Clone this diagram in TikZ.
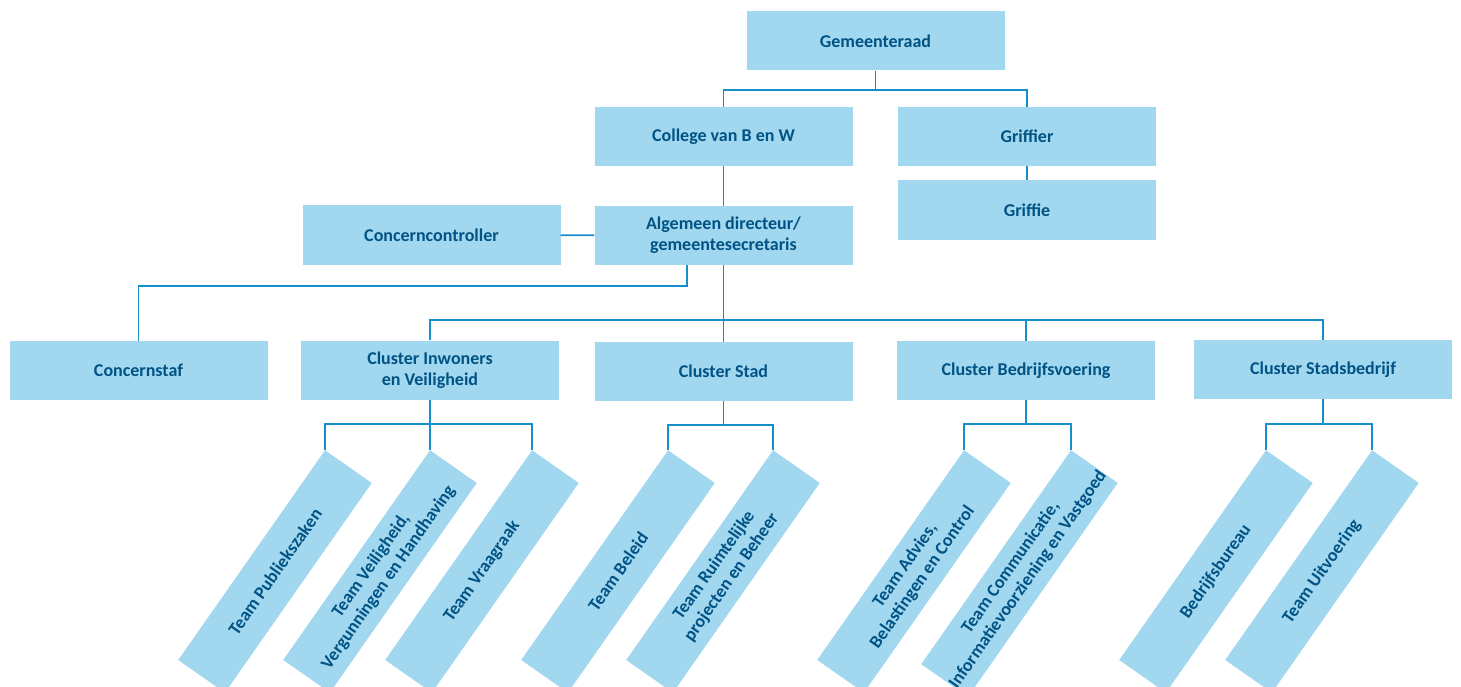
\documentclass[tikz,border=0pt]{standalone}
\usepackage{fontspec}
\setmainfont{Carlito}
\definecolor{box_c}{rgb}{
	0.6313725490196078, 0.8431372549019608, 0.9372549019607843
	}
\definecolor{text_c}{rgb}{
	0.0, 0.3254901960784314, 0.5176470588235295
	}
\definecolor{line_c}{rgb}{
	0.0784313725490196, 0.5607843137254902, 0.8
	}
\usepackage{tikz}
\usetikzlibrary{arrows,
                calc,
                positioning}

\begin{document}
\begin{tikzpicture}[
			x=1pt, y=-1pt,
			unit/.style = {fill=box_c, text=text_c, font=\fontsize{18}{21}\selectfont\bfseries,
				minimum width=258pt, minimum height=59pt, inner sep=0pt, align=center},
			team/.style = {unit, minimum width=256pt, minimum height=57pt, rotate=55, anchor=north east},
			link/.style = {draw=line_c, line width=1.6pt},
			]
			\useasboundingbox (0,0) rectangle (1461,687);
			% top
			\node[unit] (raad) at (875.5,41) {Gemeenteraad};
			\node[unit] (college) at (723.5,136.5) {College van B en W};
			\node[unit] (griffier) at (1027,136.5) {Griffier};
			\node[unit] (griffie) at (1027,210) {Griffie};
			\node[unit] (cc) at (431.5,235) {Concerncontroller};
			\node[unit] (ad) at (723.5,235.5) {Algemeen directeur/\\gemeentesecretaris};
			% clusters
			\node[unit] (staf) at (138.5,370.5) {Concernstaf};
			\node[unit] (inw) at (430,370) {Cluster Inwoners\\en Veiligheid};
			\node[unit] (stad) at (723.5,371.5) {Cluster Stad};
			\node[unit] (bedr) at (1026,370.5) {Cluster Bedrijfsvoering};
			\node[unit] (sbed) at (1323,369.5) {Cluster Stadsbedrijf};
			% teams
			\node[team] (pub) at (325,450) {Team Publiekszaken};
			\node[team] (vvh) at (430,450) {Team Veiligheid,\\Vergunningen en Handhaving};
			\node[team] (vraag) at (532,450) {Team Vraagraak};
			\node[team] (beleid) at (668,450) {Team Beleid};
			\node[team] (rpb) at (773,450) {Team Ruimtelijke\\projecten en Beheer};
			\node[team] (abc) at (964,450) {Team Advies,\\Belastingen en Control};
			\node[team] (civ) at (1071,450) {Team Communicatie,\\Informatievoorziening en Vastgoed};
			\node[team] (bbur) at (1266,450) {Bedrijfsbureau};
			\node[team] (uitv) at (1372,450) {Team Uitvoering};
			% edges
			\coordinate (j1) at (875.5,90);
			\coordinate (j2) at (723.5,320);
			\path[link] (raad.south) -- (j1);
			\path[link] (college.north) |- (j1) -| (griffier.north);
			\path[link] (griffier) -- (griffie);
			\path[link] (college) -- (ad);
			\path[link] (cc) -- (ad);
			\path[link] (ad.south) -- (stad.north);
			\path[link] (inw.north) |- (j2) -| (bedr.north);
			\path[link] (j2) -| (sbed.north);
			\path[link] ([xshift=-36.5pt]ad.south) -- ++(0,21) -| (staf.north);
			% edges to teams
			\path[link] (inw.south) -- ++(0,24) coordinate (k1);
			\path[link] (pub.north east) |- (k1) -| (vraag.north east);
			\path[link] (k1) -- (vvh.north east);
			\path[link] (stad.south) -- ++(0,24) coordinate (k2);
			\path[link] (beleid.north east) |- (k2) -| (rpb.north east);
			\path[link] (bedr.south) -- ++(0,24) coordinate (k3);
			\path[link] (abc.north east) |- (k3) -| (civ.north east);
			\path[link] (sbed.south) -- ++(0,25) coordinate (k4);
			\path[link] (bbur.north east) |- (k4) -| (uitv.north east);
\end{tikzpicture}
\end{document}
